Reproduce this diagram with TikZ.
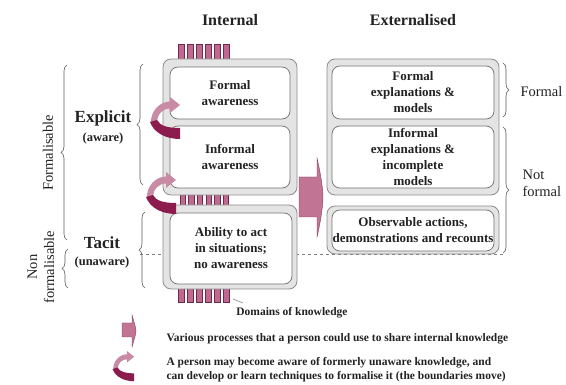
\documentclass[tikz,border=0pt]{standalone}
\usepackage{fontspec}
\setmainfont{Liberation Serif}
\usetikzlibrary{decorations.pathreplacing}

\definecolor{barfill}{HTML}{C06890}
\definecolor{barline}{HTML}{6B2B49}
\definecolor{procfill}{HTML}{C27494}
\definecolor{procline}{HTML}{7E3D5C}
\definecolor{curllight}{HTML}{C98AA6}
\definecolor{curldark}{HTML}{8C1C4E}
\definecolor{outerfill}{HTML}{E4E4E4}
\definecolor{outerline}{HTML}{8C8C8C}
\definecolor{innerline}{HTML}{707070}
\definecolor{ink}{HTML}{222222}

% ribbon arrow that curls up and to the right (origin = top left of its box)
\newcommand{\curlribbon}{%
  \fill[curllight] (-1,27) .. controls (-2,14) and (8,4) .. (19,4.5)
    -- (19,11.5) .. controls (11,11) and (5,17) .. (5,26) -- cycle;
  \fill[curllight] (18,0) -- (28,8) -- (18,16) -- cycle;
  \fill[curldark] (28,31) -- (28,42) .. controls (14,42) and (2,36) .. (-2,25)
    -- (5,23) .. controls (8,29) and (16,31) .. (28,31) -- cycle;
}

\tikzset{
  outerbox/.style={draw=outerline, fill=outerfill, rounded corners=8pt, line width=0.8pt, inner sep=0pt},
  innerbox/.style={draw=innerline, fill=white, rounded corners=8pt, line width=0.7pt,
    align=center, font=\fontsize{13}{16}\selectfont\bfseries, text=ink, inner sep=0pt},
  domainbar/.style={draw=barline, fill=barfill, line width=0.5pt},
  lbrace/.style={decorate, decoration={brace, amplitude=6pt}, draw=gray!70!black, line width=0.6pt},
  heading/.style={font=\fontsize{16}{19}\selectfont\bfseries, text=ink},
  sidelabel/.style={font=\fontsize{14.5}{17}\selectfont, text=ink, align=left},
  legendtext/.style={font=\fontsize{11.5}{13.5}\selectfont\bfseries, text=ink, align=left, anchor=west},
}

\begin{document}
\begin{tikzpicture}[x=1pt, y=-1pt]
\useasboundingbox (0,0) rectangle (566,385);

% boundary between formalisable and non formalisable knowledge
\coordinate (dashL) at (140,254);
\coordinate (dashR) at (505,254);
\draw[gray, dashed, line width=0.5pt] (dashL) -- (dashR);

% domain bars (top, middle, bottom)
\foreach \i in {0,...,5} {
  \draw[domainbar] ({178+9*\i},44) rectangle ++(6,17);
  \draw[domainbar] ({180+8.6*\i},194) rectangle ++(5.5,13);
  \draw[domainbar] ({178+9*\i},288) rectangle ++(6,14);
}

% outer containers
\node[outerbox, minimum width=134pt, minimum height=136pt] (intU) at (230,127) {};
\node[outerbox, minimum width=134pt, minimum height=84pt] (intL) at (230,247) {};
\node[outerbox, minimum width=172pt, minimum height=136pt] (extU) at (413,127) {};
\node[outerbox, minimum width=172pt, minimum height=48pt] (extL) at (413,230) {};

% internal knowledge
\node[innerbox, minimum width=120pt, minimum height=52pt] (fa) at (230,93) {Formal\\awareness};
\node[innerbox, minimum width=120pt, minimum height=62pt] (ia) at (230,157) {Informal\\awareness};
\node[innerbox, minimum width=122pt, minimum height=71pt] (ab) at (231,248.5) {Ability to act\\in situations;\\no awareness};

% externalised knowledge
\node[innerbox, minimum width=162pt, minimum height=53pt] (fe) at (413,92.5) {Formal\\explanations \&\\models};
\node[innerbox, minimum width=162pt, minimum height=62pt] (ie) at (413,157) {Informal\\explanations \&\\incomplete\\models};
\node[innerbox, minimum width=162pt, minimum height=41pt] (ob) at (413,230.5) {Observable actions,\\demonstrations and recounts};

% sharing process arrow
\filldraw[fill=procfill, draw=procline, line width=0.4pt]
  (299,177) -- (317,177) -- (317,158) .. controls (321,175) and (323,190) .. (323,197)
  .. controls (323,205) and (321,220) .. (317,237) -- (317,217) -- (299,217) -- cycle;

% awareness arrows
\begin{scope}[shift={(152,97)}] \curlribbon \end{scope}
\begin{scope}[shift={(148,172)}] \curlribbon \end{scope}

% headings
\node[heading] (tInt) at (230,20) {Internal};
\node[heading] (tExt) at (413,20) {Externalised};

% left braces
\coordinate (fbT) at (67,65);  \coordinate (fbB) at (67,240);
\coordinate (nbT) at (68,249); \coordinate (nbB) at (68,288);
\coordinate (ebT) at (143,64); \coordinate (ebB) at (143,185);
\coordinate (tbT) at (145,212);\coordinate (tbB) at (145,288);
\draw[lbrace] (fbB) -- (fbT);
\draw[lbrace] (nbB) -- (nbT);
\draw[lbrace] (ebB) -- (ebT);
\draw[lbrace] (tbB) -- (tbT);

% right braces
\coordinate (rfT) at (503,63);  \coordinate (rfB) at (503,117);
\coordinate (rnT) at (503,127); \coordinate (rnB) at (503,253);
\draw[lbrace] (rfT) -- (rfB);
\draw[lbrace] (rnT) -- (rnB);

% left labels
\node[sidelabel, rotate=90] (lForm) at (48,153) {Formalisable};
\node[sidelabel, rotate=90, align=center] (lNon) at (41,267) {Non\\formalisable};
\node[font=\fontsize{17}{20}\selectfont\bfseries, text=ink] (lExp) at (103,118) {Explicit};
\node[font=\fontsize{12.5}{15}\selectfont\bfseries, text=ink] (lAw) at (103,138) {(aware)};
\node[font=\fontsize{17}{20}\selectfont\bfseries, text=ink] (lTac) at (102,243) {Tacit};
\node[font=\fontsize{12.5}{15}\selectfont\bfseries, text=ink] (lUn) at (102,262) {(unaware)};

% right labels
\node[sidelabel, anchor=west] (rForm) at (517,92) {Formal};
\node[sidelabel, anchor=west] (rNot) at (519,183) {Not\\formal};

% domains label
\coordinate (domA) at (233,299);
\node[font=\fontsize{11.5}{13.5}\selectfont\bfseries, text=ink] (dom) at (292,313) {Domains of knowledge};
\coordinate (domB) at (243,303);
\draw[gray, line width=0.6pt] (domA) -- (domB);

% legend
\filldraw[fill=procfill, draw=procline, line width=0.4pt]
  (122,323) -- (132,323) -- (132,315) .. controls (134,322) and (136,328) .. (136,331)
  .. controls (136,334) and (134,340) .. (132,347) -- (132,337) -- (122,337) -- cycle;
\node[legendtext] (leg1) at (163,339) {Various processes that a person could use to share internal knowledge};
\begin{scope}[shift={(114,351)}, scale=0.72] \curlribbon \end{scope}
\node[legendtext] (leg2) at (163,369.5) {A person may become aware of formerly unaware knowledge, and\\can develop or learn techniques to formalise it (the boundaries move)};
\end{tikzpicture}
\end{document}
